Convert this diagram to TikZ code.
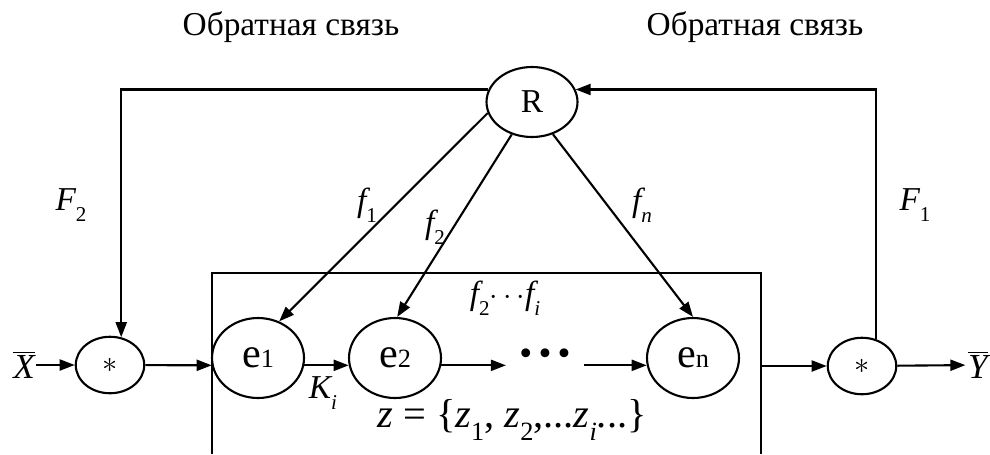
\documentclass[tikz,border=0pt]{standalone}
\usepackage{fontspec}
\setmainfont{Liberation Serif}
\usetikzlibrary{arrows.meta,shapes.geometric}
\newcommand{\lowidx}[3][12]{#2\raisebox{-0.32em}{\fontsize{#1}{#1}\selectfont #3}}

\begin{document}
\begin{tikzpicture}[x=0.02cm,y=-0.02cm,line width=1.2pt,
	>={Triangle[length=0.3cm,width=0.22cm]},
	oval/.style={draw,ellipse,inner sep=0pt},
	elem/.style={oval,minimum width=1.84cm,minimum height=1.6cm,font=\fontsize{24}{24}\selectfont},
	mult/.style={oval,minimum width=1.37cm,minimum height=1.13cm,font=\fontsize{19}{19}\selectfont},
	lbl/.style={inner sep=1pt,font=\fontsize{19}{19}\selectfont\itshape},
	title/.style={font=\fontsize{19}{19}\selectfont}]
	\useasboundingbox (0,0) rectangle (990,454);
	
	% Titles
	\node (t1) at (291,27) [title] {Обратная связь};
	\node (t2) at (755,27) [title] {Обратная связь};
	
	% Object box
	\draw (212,454) |- (761,273) -- (761,454);
	
	% Regulator and multipliers
	\node (R) at (532,102) [oval,minimum width=1.82cm,minimum height=1.4cm,font=\fontsize{19}{19}\selectfont] {R};
	\node (sL) at (110,365) [mult] {$\ast$};
	\node (sR) at (862,366) [mult] {$\ast$};
	
	% Elements
	\node (e1) at (258,358) [elem] {e{\fontsize{15}{15}\selectfont 1}};
	\node (e2) at (395,358) [elem] {e{\fontsize{15}{15}\selectfont 2}};
	\node (en) at (693,358) [elem] {e{\fontsize{15}{15}\selectfont n}};
	\node (dots) at (545,357) [inner xsep=0.25cm,font=\fontsize{21}{21}\selectfont] {\textbullet\,\textbullet\,\textbullet};
	
	% Inputs and outputs
	\node (X) at (24,365) [inner sep=0pt,font=\fontsize{20}{20}\selectfont] {$\overline{\mbox{\itshape X}}$};
	\node (Y) at (978,365) [inner sep=1pt,font=\fontsize{20}{20}\selectfont] {$\overline{\mbox{\itshape Y}}$};
	\coordinate (out) at (761,366);
	
	% Labels
	\node (F2) at (71,205) [lbl] {\lowidx{F}{\upshape 2}};
	\node (F1) at (915,205) [lbl] {\lowidx{F}{\upshape 1}};
	\node (f1) at (367,205) [lbl] {\lowidx{f}{\upshape 1}};
	\node (f2) at (435,227) [lbl] {\lowidx{f}{\upshape 2}};
	\node (fn) at (642,205) [lbl] {\lowidx{f}{n}};
	\node (fi) at (505,298) [lbl] {\lowidx{f}{\upshape 2}$\cdots$\lowidx{f}{i}};
	\node (Ki) at (323,393) [lbl] {\lowidx{K}{i}};
	\node (zset) at (512,420) [inner sep=0pt,font=\fontsize{23}{23}\selectfont] {\textit{z} = \{\lowidx[15]{\textit{z}}{1}, \lowidx[15]{\textit{z}}{2},...\lowidx[15]{\textit{z}}{\itshape i}...\}};
	
	% Feedback loops
	\draw[->] (R.164) -| (sL.68);
	\draw[->] (sR.63) |- (R.16);
	
	% Control arrows
	\draw[->] (R.194) -- (e1.60);
	\draw[->] (R.238) -- (e2.87);
	\draw[->] (R.303) -- (en.north);
	
	% Main chain
	\draw[->] (X) -- (sL);
	\draw[->] (sL) -- (e1.189);
	\draw[->] (e1.-9) -- (e2.189);
	\draw[->] (e2.-9) -- (e2.-9 -| dots.west);
	\draw[->] (dots.east |- en.189) -- (en.189);
	\draw[->] (out) -- (sR);
	\draw[->] (sR) -- (Y);
\end{tikzpicture}
\end{document}
